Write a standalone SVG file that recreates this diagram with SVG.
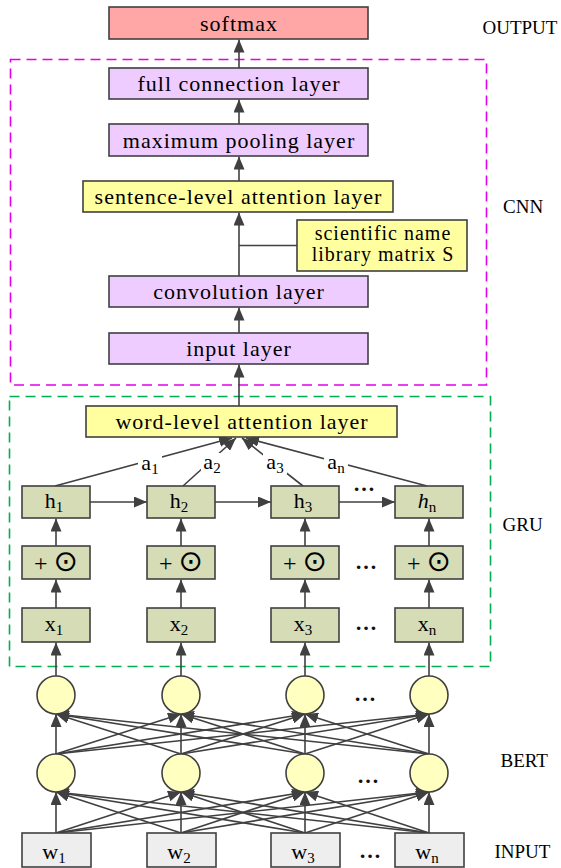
<svg xmlns="http://www.w3.org/2000/svg" width="561" height="868" viewBox="0 0 561 868">
<defs>
<marker id="ah" markerUnits="userSpaceOnUse" markerWidth="13" markerHeight="11" refX="13" refY="5.5" orient="auto">
<path d="M0,0 L13,5.5 L0,11 z" fill="#404040"/>
</marker>
<style>
.b{stroke:#404040;stroke-width:1.6}
.pk{fill:#FFA6A6}.pu{fill:#EFCCFF}.ye{fill:#FFFFA0}.gr{fill:#D6DCB6}.wb{fill:#EEEEEE}.ci{fill:#FFFFC0}
.t{font-family:"Liberation Serif","Times New Roman",serif;font-size:22px;letter-spacing:1px;text-anchor:middle;fill:#000}
.s{font-family:"Liberation Serif","Times New Roman",serif;font-size:22px;text-anchor:middle;fill:#000}
.sub{font-size:15px}
.side{font-family:"Liberation Serif","Times New Roman",serif;font-size:19px;fill:#000}
.dots{font-family:"Liberation Serif","Times New Roman",serif;font-size:22px;font-weight:bold;text-anchor:middle;fill:#111}
.op{font-family:"Liberation Serif","Times New Roman",serif;font-size:24px;text-anchor:middle;fill:#000}
.od{font-family:"DejaVu Sans",sans-serif;font-size:29px}
.conn line{stroke:#404040;stroke-width:1.6}
.conn .a{marker-end:url(#ah)}
.dm{fill:none;stroke:#E000F0;stroke-width:1.6;stroke-dasharray:10,6}
.dg{fill:none;stroke:#00B050;stroke-width:1.6;stroke-dasharray:10,6}
</style>
</defs>
<rect width="561" height="868" fill="#fff"/>
<rect id="cnn-frame" class="dm" x="10.5" y="59.5" width="476" height="325.5"/>
<rect id="gru-frame" class="dg" x="9.5" y="396.5" width="481" height="270"/>

<g class="conn">
<line class="a" x1="239" y1="68" x2="239" y2="39.5"/>
<line class="a" x1="239" y1="124" x2="239" y2="99.5"/>
<line class="a" x1="239" y1="181" x2="239" y2="156.5"/>
<line class="a" x1="239" y1="276" x2="239" y2="212.5"/>
<line x1="297" y1="245.5" x2="239" y2="245.5"/>
<line class="a" x1="239" y1="333" x2="239" y2="307.5"/>
<line class="a" x1="239" y1="406" x2="239" y2="364.5"/>
<line class="a" x1="55" y1="486" x2="232" y2="438"/>
<line class="a" x1="183" y1="486" x2="236" y2="438"/>
<line class="a" x1="303" y1="486" x2="242" y2="438"/>
<line class="a" x1="427" y1="486" x2="246" y2="438"/>
<line class="a" x1="90" y1="502" x2="147" y2="502"/>
<line class="a" x1="215" y1="502" x2="271" y2="502"/>
<line class="a" x1="339" y1="502" x2="395" y2="502"/>
<line class="a" x1="56" y1="546" x2="56" y2="518.5"/>
<line class="a" x1="181" y1="546" x2="181" y2="518.5"/>
<line class="a" x1="305" y1="546" x2="305" y2="518.5"/>
<line class="a" x1="429" y1="546" x2="429" y2="518.5"/>
<line class="a" x1="56" y1="608" x2="56" y2="579.5"/>
<line class="a" x1="181" y1="608" x2="181" y2="579.5"/>
<line class="a" x1="305" y1="608" x2="305" y2="579.5"/>
<line class="a" x1="429" y1="608" x2="429" y2="579.5"/>
<line class="a" x1="56" y1="676" x2="56" y2="642.5"/>
<line class="a" x1="181" y1="676" x2="181" y2="642.5"/>
<line class="a" x1="305" y1="676" x2="305" y2="642.5"/>
<line class="a" x1="429" y1="676" x2="429" y2="642.5"/>
<line class="a" x1="56" y1="754" x2="56" y2="714"/>
<line class="a" x1="56" y1="754" x2="181" y2="714"/>
<line class="a" x1="56" y1="754" x2="305" y2="714"/>
<line class="a" x1="56" y1="754" x2="429" y2="714"/>
<line class="a" x1="181" y1="754" x2="56" y2="714"/>
<line class="a" x1="181" y1="754" x2="181" y2="714"/>
<line class="a" x1="181" y1="754" x2="305" y2="714"/>
<line class="a" x1="181" y1="754" x2="429" y2="714"/>
<line class="a" x1="305" y1="754" x2="56" y2="714"/>
<line class="a" x1="305" y1="754" x2="181" y2="714"/>
<line class="a" x1="305" y1="754" x2="305" y2="714"/>
<line class="a" x1="305" y1="754" x2="429" y2="714"/>
<line class="a" x1="429" y1="754" x2="56" y2="714"/>
<line class="a" x1="429" y1="754" x2="181" y2="714"/>
<line class="a" x1="429" y1="754" x2="305" y2="714"/>
<line class="a" x1="429" y1="754" x2="429" y2="714"/>
<line class="a" x1="56" y1="833" x2="56" y2="792"/>
<line class="a" x1="56" y1="833" x2="181" y2="792"/>
<line class="a" x1="56" y1="833" x2="305" y2="792"/>
<line class="a" x1="56" y1="833" x2="429" y2="792"/>
<line class="a" x1="181" y1="833" x2="56" y2="792"/>
<line class="a" x1="181" y1="833" x2="181" y2="792"/>
<line class="a" x1="181" y1="833" x2="305" y2="792"/>
<line class="a" x1="181" y1="833" x2="429" y2="792"/>
<line class="a" x1="305" y1="833" x2="56" y2="792"/>
<line class="a" x1="305" y1="833" x2="181" y2="792"/>
<line class="a" x1="305" y1="833" x2="305" y2="792"/>
<line class="a" x1="305" y1="833" x2="429" y2="792"/>
<line class="a" x1="429" y1="833" x2="56" y2="792"/>
<line class="a" x1="429" y1="833" x2="181" y2="792"/>
<line class="a" x1="429" y1="833" x2="305" y2="792"/>
<line class="a" x1="429" y1="833" x2="429" y2="792"/>
</g>

<g id="lbl-a">
<rect x="138" y="454" width="24" height="21" fill="#fff"/>
<text class="s" x="150" y="470">a<tspan class="sub" dy="4">1</tspan></text>
<rect x="201" y="453" width="22" height="21" fill="#fff"/>
<text class="s" x="212" y="469">a<tspan class="sub" dy="4">2</tspan></text>
<rect x="263" y="453" width="24" height="21" fill="#fff"/>
<text class="s" x="275" y="469">a<tspan class="sub" dy="4">3</tspan></text>
<rect x="324" y="453" width="24" height="21" fill="#fff"/>
<text class="s" x="336" y="469">a<tspan class="sub" dy="4">n</tspan></text>
</g>

<g id="softmax"><rect class="b pk" x="109" y="7" width="259" height="32"/><text class="t" x="239" y="31">softmax</text></g>
<g id="full"><rect class="b pu" x="109" y="68" width="259" height="31"/><text class="t" x="239" y="91">full connection layer</text></g>
<g id="pool"><rect class="b pu" x="109" y="124" width="259" height="32"/><text class="t" x="239" y="147.5">maximum pooling layer</text></g>
<g id="sent"><rect class="b ye" x="83" y="181" width="310" height="31"/><text class="t" x="238.5" y="204">sentence-level attention layer</text></g>
<g id="sci"><rect class="b ye" x="297" y="220" width="170" height="51"/><text class="t" x="383" y="240" style="font-size:20px;letter-spacing:1px">scientific name</text><text class="t" x="383" y="261" style="font-size:20px;letter-spacing:1px">library matrix S</text></g>
<g id="conv"><rect class="b pu" x="109" y="276" width="259" height="31"/><text class="t" x="239" y="299">convolution layer</text></g>
<g id="inp"><rect class="b pu" x="109" y="333" width="259" height="31"/><text class="t" x="239" y="356">input layer</text></g>
<g id="word"><rect class="b ye" x="86" y="406" width="311" height="31"/><text class="t" x="242" y="429">word-level attention layer</text></g>

<g id="h1"><rect class="b gr" x="22" y="486" width="68" height="32"/><text class="s" x="54" y="508">h<tspan class="sub" dy="4">1</tspan></text></g>
<g id="h2"><rect class="b gr" x="147" y="486" width="68" height="32"/><text class="s" x="179" y="508">h<tspan class="sub" dy="4">2</tspan></text></g>
<g id="h3"><rect class="b gr" x="271" y="486" width="68" height="32"/><text class="s" x="303" y="508">h<tspan class="sub" dy="4">3</tspan></text></g>
<g id="hn"><rect class="b gr" x="395" y="486" width="68" height="32"/><text class="s" x="427" y="508"><tspan font-style="italic">h</tspan><tspan class="sub" dy="4">n</tspan></text></g>

<g id="op1"><rect class="b gr" x="22" y="546" width="68" height="33"/><text class="op" x="56" y="571">+ <tspan class="od">⊙</tspan></text></g>
<g id="op2"><rect class="b gr" x="147" y="546" width="68" height="33"/><text class="op" x="181" y="571">+ <tspan class="od">⊙</tspan></text></g>
<g id="op3"><rect class="b gr" x="271" y="546" width="68" height="33"/><text class="op" x="305" y="571">+ <tspan class="od">⊙</tspan></text></g>
<g id="opn"><rect class="b gr" x="395" y="546" width="68" height="33"/><text class="op" x="429" y="571">+ <tspan class="od">⊙</tspan></text></g>

<g id="x1"><rect class="b gr" x="22" y="608" width="68" height="34"/><text class="s" x="54" y="631">x<tspan class="sub" dy="4">1</tspan></text></g>
<g id="x2"><rect class="b gr" x="147" y="608" width="68" height="34"/><text class="s" x="179" y="631">x<tspan class="sub" dy="4">2</tspan></text></g>
<g id="x3"><rect class="b gr" x="271" y="608" width="68" height="34"/><text class="s" x="303" y="631">x<tspan class="sub" dy="4">3</tspan></text></g>
<g id="xn"><rect class="b gr" x="395" y="608" width="68" height="34"/><text class="s" x="427" y="631">x<tspan class="sub" dy="4">n</tspan></text></g>

<g id="bert-upper">
<circle class="b ci" cx="56" cy="695" r="19"/><circle class="b ci" cx="181" cy="695" r="19"/><circle class="b ci" cx="305" cy="695" r="19"/><circle class="b ci" cx="429" cy="695" r="19"/>
</g>
<g id="bert-lower">
<circle class="b ci" cx="56" cy="773" r="19"/><circle class="b ci" cx="181" cy="773" r="19"/><circle class="b ci" cx="305" cy="773" r="19"/><circle class="b ci" cx="429" cy="773" r="19"/>
</g>

<g id="w1"><rect class="b wb" x="22" y="833" width="69" height="34"/><text class="s" x="54" y="859">w<tspan class="sub" dy="4">1</tspan></text></g>
<g id="w2"><rect class="b wb" x="147" y="833" width="69" height="34"/><text class="s" x="179" y="859">w<tspan class="sub" dy="4">2</tspan></text></g>
<g id="w3"><rect class="b wb" x="271" y="833" width="69" height="34"/><text class="s" x="303" y="859">w<tspan class="sub" dy="4">3</tspan></text></g>
<g id="wn"><rect class="b wb" x="395" y="833" width="69" height="34"/><text class="s" x="427" y="859">w<tspan class="sub" dy="4">n</tspan></text></g>

<g id="ellipses">
<text class="dots" x="364" y="491">…</text>
<text class="dots" x="366" y="569">…</text>
<text class="dots" x="366" y="630">…</text>
<text class="dots" x="365" y="701">…</text>
<text class="dots" x="368" y="783">…</text>
<text class="dots" x="370" y="858">…</text>
</g>

<g id="side-labels">
<text class="side" x="482.5" y="34">OUTPUT</text>
<text class="side" x="503" y="212.5">CNN</text>
<text class="side" x="502.5" y="530.5">GRU</text>
<text class="side" x="500.5" y="767">BERT</text>
<text class="side" x="494.5" y="858">INPUT</text>
</g>
</svg>
